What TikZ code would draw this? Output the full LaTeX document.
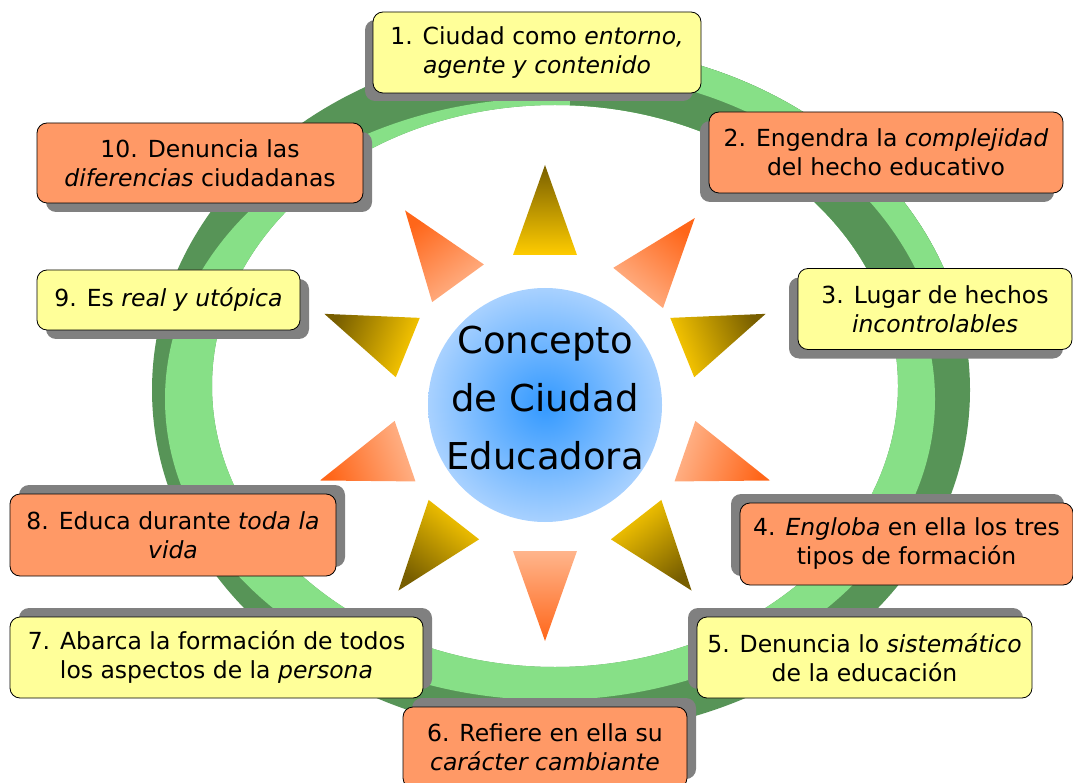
\documentclass[tikz,border=0pt]{standalone}
\usepackage{fontspec}
\setmainfont{DejaVu Sans}
\usepackage{tikz}
\usetikzlibrary{shadows}
\definecolor{boxyellow}{rgb}{1.,1.,0.6}
\definecolor{boxorange}{rgb}{1.,0.6,0.4}
\definecolor{shadowgray}{rgb}{0.5,0.5,0.5}
\definecolor{ringdark}{rgb}{0.34,0.58,0.34}
\definecolor{ringlight}{rgb}{0.53,0.88,0.53}
\definecolor{golddark}{rgb}{0.47,0.37,0.}
\definecolor{goldlight}{rgb}{1.,0.8,0.}
\definecolor{orangedark}{rgb}{1.,0.4,0.1}
\definecolor{orangelight}{rgb}{1.,0.71,0.55}
\definecolor{bluein}{rgb}{0.2,0.6,1.}
\definecolor{blueout}{rgb}{0.66,0.82,1.}
\tikzset{
  box/.style={draw=black, line width=0.8pt, rounded corners=10pt, inner sep=0pt, align=center,
    font=\fontsize{23.5}{29}\selectfont},
  ybox/.style={box, fill=boxyellow},
  obox/.style={box, fill=boxorange},
  sh/.style 2 args={drop shadow={shadow xshift=#1, shadow yshift=#2, fill=shadowgray, opacity=1}}
}

\begin{document}
\begin{tikzpicture}[line cap=round,line join=round,x=1pt,y=-1pt]
\useasboundingbox (0,0) rectangle (1073,783);
\clip (0,0) rectangle (1073,783);
% ring
\fill[ringdark, even odd rule] (561,390) ellipse [x radius=409, y radius=345] (555,386) ellipse [x radius=343, y radius=281];
\begin{scope}
  \clip (550,399) ellipse [x radius=385, y radius=301];
  \fill[ringlight, even odd rule] (561,390) ellipse [x radius=409, y radius=345] (555,386) ellipse [x radius=343, y radius=281];
\end{scope}
% twisted part top right
\begin{scope}
  \clip (570,0) -- (1073,0) -- (1073,300) -- (900,300) -- (570,115) -- cycle;
  \fill[ringdark, even odd rule] (561,390) ellipse [x radius=409, y radius=345] (555,386) ellipse [x radius=343, y radius=281];
  \fill[ringlight, even odd rule] (561,390) ellipse [x radius=409, y radius=345] (561,392) ellipse [x radius=384, y radius=320];
\end{scope}
% sun rays
\foreach \ang/\tipc/\basec [evaluate=\ang as \sang using \ang-90] in {90/golddark/goldlight,
    51/orangedark/orangelight, 22/golddark/goldlight, -19/orangedark/orangelight, -52/golddark/goldlight,
    -90/orangedark/orangelight, -128/golddark/goldlight, -161/orangedark/orangelight,
    158/golddark/goldlight, 126/orangedark/orangelight}{
  \begin{scope}[shift={(545,403)}, rotate=\ang]
    \shade[top color=\tipc, bottom color=\basec, shading angle=\sang] (238,0) -- (148,32) -- (148,-32) -- cycle;
  \end{scope}
}
% centre
\shade[inner color=bluein, outer color=blueout] (545,405) circle [radius=117];
\node[align=center, font=\fontsize{37}{58}\selectfont] (centro) at (545,398) {Concepto\\de Ciudad\\Educadora};
% boxes
\node[ybox, sh={-8pt}{-8pt}, minimum width=328, minimum height=81] (c1) at (537,52.5)
  {1. Ciudad como \textit{entorno,}\\\textit{agente y contenido}};
\node[obox, sh={-9pt}{-9pt}, minimum width=354, minimum height=81] (c2) at (886,152.5)
  {2. Engendra la \textit{complejidad}\\del hecho educativo};
\node[ybox, sh={-9pt}{-9pt}, minimum width=274, minimum height=81] (c3) at (935,309)
  {3. Lugar de hechos\\\textit{incontrolables}};
\node[obox, sh={-9pt}{9pt}, minimum width=333, minimum height=82] (c4) at (906.5,544)
  {4. \textit{Engloba} en ella los tres\\tipos de formación};
\node[ybox, sh={-9pt}{9pt}, minimum width=335, minimum height=81] (c5) at (864.5,657.5)
  {5. Denuncia lo \textit{sistemático}\\de la educación};
\node[obox, sh={9pt}{9pt}, minimum width=284, minimum height=81] (c6) at (545,747.5)
  {6. Refiere en ella su\\\textit{carácter cambiante}};
\node[ybox, sh={9pt}{9pt}, minimum width=413, minimum height=81] (c7) at (216.5,657.5)
  {7. Abarca la formación de todos\\los aspectos de la \textit{persona}};
\node[obox, sh={9pt}{9pt}, minimum width=326, minimum height=82] (c8) at (173,535)
  {8. Educa durante \textit{toda la}\\\textit{vida}};
\node[ybox, sh={9pt}{-9pt}, minimum width=263, minimum height=60] (c9) at (168.5,300)
  {9. Es \textit{real y utópica}};
\node[obox, sh={9pt}{-9pt}, minimum width=326, minimum height=80] (c10) at (200,163)
  {10. Denuncia las\\\textit{diferencias} ciudadanas};
\end{tikzpicture}
\end{document}
